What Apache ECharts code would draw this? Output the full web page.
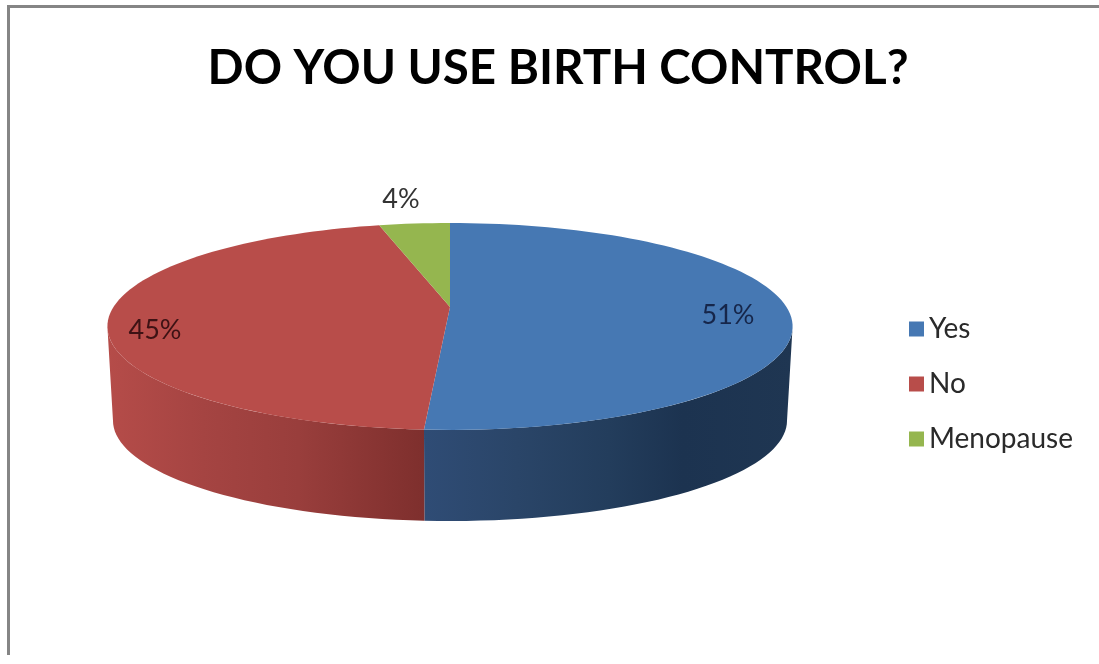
<!DOCTYPE html>
<html>
<head>
<meta charset="utf-8">
<style>html,body{margin:0;padding:0;background:#fff}#c{width:1099px;height:664px;filter:blur(0.5px)}</style>
<script src="https://cdn.jsdelivr.net/npm/echarts@6/dist/echarts.min.js"></script>
</head>
<body>
<div id="c"></div>
<script>
const categories = ['Yes', 'No', 'Menopause'];
const values = [51, 45, 4];
const chartTitle = 'DO YOU USE BIRTH CONTROL?';
const topColors = ['#4678b3', '#b84d4a', '#95b64f'];

// Pie geometry (perspective-projected disc)
const CX = 450, K = 0.188;
const TOP = { rx: 336.5, ry: 99.8, ay: 307 };
const BOT = { rx: 331, ry: 96.8, ay: 401.8 };
const EDGE = Math.acos(-K) * 180 / Math.PI; // silhouette angle
const LABEL_AT = [[728, 315], [155, 330], [401, 199]];
const SIDE_GRAD = [
  { x: 425, x2: 793, stops: [[0, '#2f4c75'], [0.25, '#2a4568'], [0.5, '#233d5c'], [0.7, '#1c3350'], [1, '#1f3652']] },
  { x: 108, x2: 425, stops: [[0, '#b54c49'], [0.3, '#a54442'], [0.6, '#993e3c'], [1, '#7e2f2d']] }
];

function project(deg, g) {
  const t = deg * Math.PI / 180, u = Math.sin(t), v = Math.cos(t), w = 1 + K * v;
  return [CX + g.rx * u / w, g.ay - g.ry * v / w];
}
function arc(a, b, g) {
  const n = Math.max(2, Math.ceil(Math.abs(b - a) / 2)), pts = [];
  for (let i = 0; i <= n; i++) pts.push(project(a + (b - a) * i / n, g));
  return pts;
}

const total = values.reduce((s, v) => s + v, 0);
let acc = 0;
const spans = values.map(v => { const a = acc; acc += v; return [a * 360 / total, acc * 360 / total]; });

function renderSlice(i) {
  return function (params, api) {
    const [a, b] = spans[i];
    const children = [];
    const sa = Math.max(a, EDGE), sb = Math.min(b, 360 - EDGE);
    if (sb > sa) {
      const g = SIDE_GRAD[i];
      children.push({
        type: 'polygon',
        shape: { points: arc(sa, sb, TOP).concat(arc(sb, sa, BOT)) },
        style: {
          fill: new echarts.graphic.LinearGradient(g.x, 0, g.x2, 0,
            g.stops.map(s => ({ offset: s[0], color: s[1] })), true)
        }
      });
    }
    children.push({
      type: 'polygon',
      shape: { points: [[CX, TOP.ay]].concat(arc(a, b, TOP)) },
      style: { fill: topColors[i] }
    });
    children.push({
      type: 'text',
      z2: 10,
      style: {
        x: LABEL_AT[i][0], y: LABEL_AT[i][1],
        text: api.value(0) + '%',
        align: 'center', verticalAlign: 'middle',
        font: '27px Lato, sans-serif',
        fill: i === 2 ? '#333333' : (i === 0 ? '#16264a' : '#3d1214')
      }
    });
    return { type: 'group', children };
  };
}

const chart = echarts.init(document.getElementById('c'), null, { renderer: 'canvas' });
chart.setOption({
  animation: false,
  backgroundColor: '#ffffff',
  title: {
    text: chartTitle,
    left: 553, top: 40, textAlign: 'center',
    textStyle: { fontFamily: 'Lato, sans-serif', fontWeight: 'bold', fontSize: 47.5, color: '#000000' }
  },
  legend: {
    orient: 'vertical',
    left: 904, top: 310,
    icon: 'rect',
    itemWidth: 15, itemHeight: 15, itemGap: 27,
    selectedMode: false,
    data: categories,
    textStyle: { fontFamily: 'Lato, sans-serif', fontSize: 28, color: '#2a2a2a' }
  },
  graphic: [
    { type: 'rect', silent: true, shape: { x: 7, y: 5, width: 1092, height: 3 }, style: { fill: '#858585' } },
    { type: 'rect', silent: true, shape: { x: 7, y: 5, width: 3, height: 650 }, style: { fill: '#858585' } }
  ],
  series: categories.map((name, i) => ({
    type: 'custom',
    name,
    coordinateSystem: 'none',
    silent: true,
    itemStyle: { color: topColors[i] },
    data: [{ name, value: [values[i]] }],
    renderItem: renderSlice(i)
  }))
});
</script>
</body>
</html>
